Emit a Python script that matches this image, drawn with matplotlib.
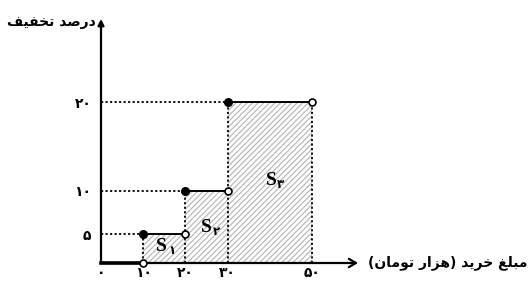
#!/usr/bin/env python3
# plot.py - step chart of discount percent vs purchase amount (Persian labels)

import numpy as np
import matplotlib
matplotlib.use("Agg")
import matplotlib.pyplot as plt

# purchase amount breakpoints (thousand toman) and discount on each step
bounds = [0, 10, 20, 30, 50]
discount = [0, 5, 10, 20]

x_ticks = [0, 10, 20, 30, 50]
x_tick_labels = ["۰", "۱۰", "۲۰", "۳۰", "۵۰"]
y_ticks = [5, 10, 20]
y_tick_labels = ["۵", "۱۰", "۲۰"]

area_subs = ["۱", "۲", "۳"]
area_x = [14.4, 25.0, 40.3]
area_y = [2.8, 5.8, 11.2]

x_title = "مبلغ خرید (هزار تومان)"
y_title = "درصد تخفیف"

# Arabic presentation forms: isolated, final, initial, medial
FORMS = {
    "ا": ("\uFE8D", "\uFE8E", None, None),
    "د": ("\uFEA9", "\uFEAA", None, None),
    "ر": ("\uFEAD", "\uFEAE", None, None),
    "ز": ("\uFEAF", "\uFEB0", None, None),
    "و": ("\uFEED", "\uFEEE", None, None),
    "ب": ("\uFE8F", "\uFE90", "\uFE91", "\uFE92"),
    "ت": ("\uFE95", "\uFE96", "\uFE97", "\uFE98"),
    "خ": ("\uFEA5", "\uFEA6", "\uFEA7", "\uFEA8"),
    "ص": ("\uFEB9", "\uFEBA", "\uFEBB", "\uFEBC"),
    "غ": ("\uFECD", "\uFECE", "\uFECF", "\uFED0"),
    "ف": ("\uFED1", "\uFED2", "\uFED3", "\uFED4"),
    "ل": ("\uFEDD", "\uFEDE", "\uFEDF", "\uFEE0"),
    "م": ("\uFEE1", "\uFEE2", "\uFEE3", "\uFEE4"),
    "ن": ("\uFEE5", "\uFEE6", "\uFEE7", "\uFEE8"),
    "ه": ("\uFEE9", "\uFEEA", "\uFEEB", "\uFEEC"),
    "ی": ("\uFBFC", "\uFBFD", "\uFBFE", "\uFBFF"),
}


def shape(text):
    """Crude joining + RTL reorder, matplotlib has no bidi support"""
    out = []
    for i, ch in enumerate(text):
        if ch not in FORMS:
            out.append(ch)
            continue
        prev = text[i - 1] if i > 0 else ""
        nxt = text[i + 1] if i + 1 < len(text) else ""
        iso, fin, ini, med = FORMS[ch]
        j_prev = prev in FORMS and FORMS[prev][2] is not None
        j_next = nxt in FORMS and ini is not None
        if j_prev and j_next:
            out.append(med)
        elif j_prev:
            out.append(fin)
        elif j_next:
            out.append(ini)
        else:
            out.append(iso)
    vis = "".join(reversed(out))
    return vis.translate(str.maketrans("()", ")("))


# the vertical axis in the original is not to scale
knots = [-10, 0, 5, 10, 20, 40]
pix = [-58, 0, 29, 72, 161, 339]


def fwd(v):
    return np.interp(v, knots, pix)


def inv(p):
    return np.interp(p, pix, knots)


W, H = 528, 282
fig = plt.figure(figsize=(W / 100, H / 100), dpi=100)
ax = fig.add_axes([101 / W, 19 / H, (358 - 101) / W, (263 - 19) / H])
ax.set_yscale("function", functions=(fwd, inv))
ax.set_xlim(0, (358 - 101) / 4.22)
ax.set_ylim(0, float(inv(263 - 19)))
for s in ax.spines.values():
    s.set_visible(False)

plt.rcParams["hatch.linewidth"] = 0.8
left = np.array(bounds[1:-1])
right = np.array(bounds[2:])
ax.bar(left, discount[1:], width=right - left, align="edge",
       facecolor="white", edgecolor="#b4b4b4", hatch="//////", lw=0, zorder=1)

dots = (0, (1.2, 1.3))
for x0, x1, y in zip(bounds[:-1], bounds[1:], discount):
    if y > 0:
        ax.plot([0, x0], [y, y], color="black", ls=dots, lw=1.3, zorder=2)
        ax.plot([x0, x0], [0, y], color="black", ls=dots, lw=1.3, zorder=2)
        ax.plot([x0, x1], [y, y], color="black", lw=1.4, zorder=3)
        ax.plot(x0, y, "o", ms=5.5, color="black", zorder=4, clip_on=False)
    else:
        ax.plot([x0, x1], [y, y], color="black", lw=2.6, zorder=3, clip_on=False)
    ax.plot(x1, y, "o", ms=5, mfc="white", mec="black", mew=1.2, zorder=4,
            clip_on=False)
ax.plot([bounds[-1], bounds[-1]], [0, discount[-1]], color="black", ls=dots,
        lw=1.3, zorder=2)

# axes with arrows
xmax = ax.get_xlim()[1]
ymax = ax.get_ylim()[1]
ax.annotate("", xy=(xmax, 0), xytext=(0, 0),
            arrowprops=dict(arrowstyle="->,head_length=0.5,head_width=0.3",
                            lw=1.6, color="black", shrinkA=0, shrinkB=0),
            annotation_clip=False)
ax.annotate("", xy=(0, ymax), xytext=(0, 0),
            arrowprops=dict(arrowstyle="-|>,head_length=0.35,head_width=0.18",
                            lw=1.6, color="black", shrinkA=0, shrinkB=0),
            annotation_clip=False)

ax.set_xticks(x_ticks)
ax.set_xticklabels(x_tick_labels)
ax.set_yticks(y_ticks)
ax.set_yticklabels(y_tick_labels)
ax.yaxis.set_minor_locator(matplotlib.ticker.NullLocator())
ax.tick_params(length=0)
ax.tick_params(axis="x", pad=2)
ax.tick_params(axis="y", pad=7)
for lab in ax.get_xticklabels() + ax.get_yticklabels():
    lab.set_fontweight("bold")
    lab.set_fontsize(10)
    lab.set_fontfamily("DejaVu Sans")

ax.annotate(shape(y_title), xy=(0, ymax), xytext=(-4, -2),
            textcoords="offset points", ha="right", va="center",
            fontsize=10, fontweight="bold", family="DejaVu Sans",
            annotation_clip=False)
ax.annotate(shape(x_title), xy=(xmax, 0), xytext=(7, 0),
            textcoords="offset points", ha="left", va="center",
            fontsize=10, fontweight="bold", family="DejaVu Sans",
            annotation_clip=False)

for sub, x, y in zip(area_subs, area_x, area_y):
    ax.text(x, y, "S", ha="center", va="center", fontsize=14,
            fontweight="bold", family="Liberation Serif", zorder=5)
    ax.annotate(sub, xy=(x, y), xytext=(4.5, -3), textcoords="offset points",
                ha="left", va="center", fontsize=8.5, fontweight="bold",
                family="DejaVu Sans", zorder=5)

fig.savefig("out.png", dpi=100)
